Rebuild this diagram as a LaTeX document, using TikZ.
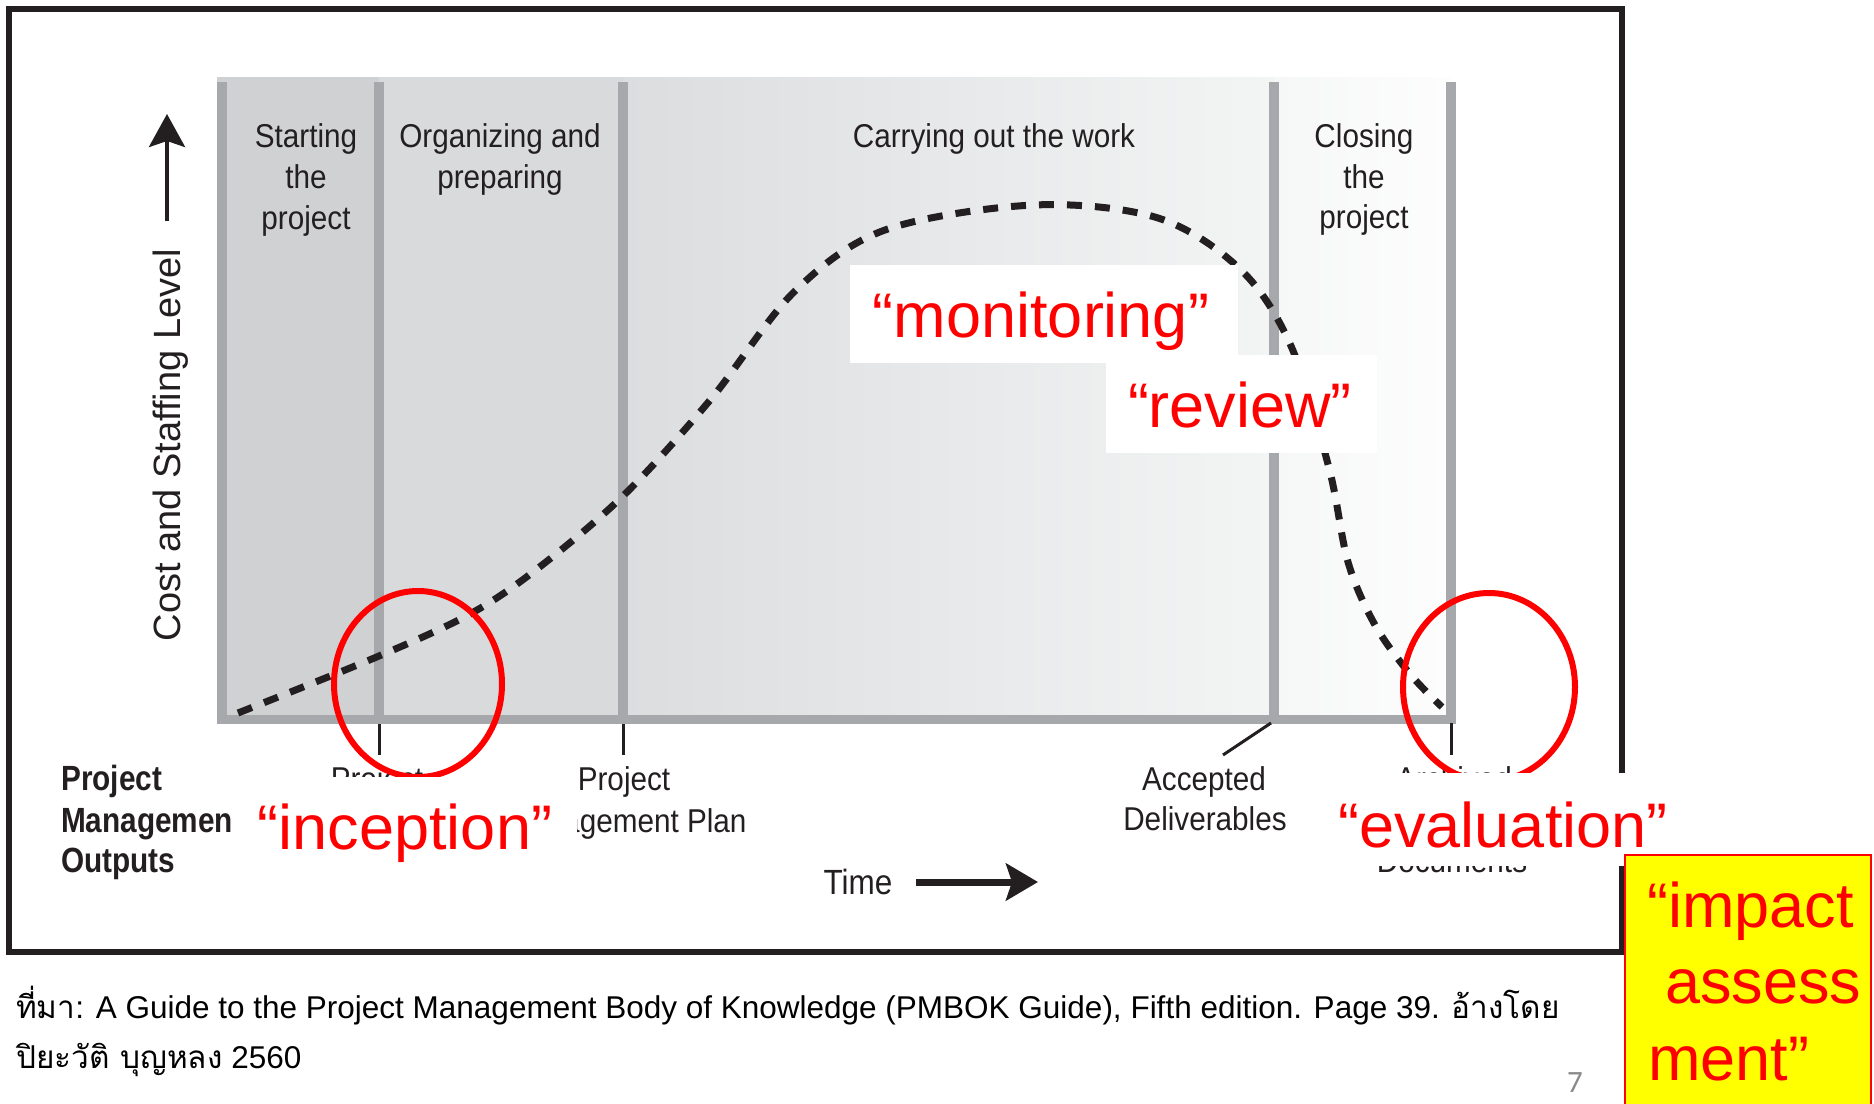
\documentclass[tikz,border=0pt]{standalone}
\usepackage{fontspec}
\setmainfont{Liberation Sans}
\newfontfamily\condf[FakeStretch=0.9]{Liberation Sans}
\newfontfamily\condbf[FakeStretch=0.85]{Liberation Sans Bold}
\newfontfamily\thaifont[Script=Thai]{Loma}
\newfontfamily\pgfont{Carlito}
\usetikzlibrary{arrows.meta}
\definecolor{ink}{HTML}{231F20}
\definecolor{barc}{HTML}{A7A8AB}
\definecolor{colA}{HTML}{D0D1D3}
\definecolor{colB}{HTML}{D9DADC}
\definecolor{colCa}{HTML}{DCDDDF}
\definecolor{colCb}{HTML}{F3F4F4}
\definecolor{colDa}{HTML}{F6F7F7}
\definecolor{colDb}{HTML}{FDFDFD}
\definecolor{rd}{HTML}{FF0000}
\definecolor{ylw}{HTML}{FFFF00}
\definecolor{pgc}{HTML}{8A8A8A}
\begin{document}
\begin{tikzpicture}[x=1pt,y=-1pt,
  phase/.style={font=\condf\fontsize{33}{40}\selectfont, text=ink, inner sep=0pt, anchor=base},
  outb/.style={font=\condbf\fontsize{35}{42}\selectfont, text=ink, inner sep=0pt, anchor=base west},
  outl/.style={font=\condf\fontsize{33}{40}\selectfont, text=ink, inner sep=0pt, anchor=base},
  redtxt/.style={font=\fontsize{63}{76}\selectfont, text=rd, inner sep=0pt, anchor=base},
  redl/.style={font=\fontsize{63}{76}\selectfont, text=rd, inner sep=0pt, anchor=base west},
  wbox/.style={fill=white, draw=none},
  gbar/.style={draw=barc, line width=10pt},
  tickln/.style={draw=ink, line width=3pt},
  ring/.style={draw=rd, line width=6pt},
  foot/.style={font=\fontsize{31.5}{36}\selectfont, text=black, inner sep=0pt, anchor=base west},
  ]
\useasboundingbox (0,0) rectangle (1874,1103);
\fill[white] (0,0) rectangle (1874,1103);

% chart background
\fill[colA] (217,77) rectangle (379,719);
\fill[colB] (379,77) rectangle (623,719);
\shade[left color=colCa, right color=colCb] (623,77) rectangle (1274,719);
\shade[left color=colDa, right color=colDb] (1274,77) rectangle (1451,719);

% bars
\draw[gbar] (222,82) -- (222,723);
\draw[gbar] (379,82) -- (379,719);
\draw[gbar] (623,82) -- (623,719);
\draw[gbar] (1274,82) -- (1274,719);
\draw[gbar] (1451,82) -- (1451,723);
\draw[draw=barc, line width=9pt] (217,719) -- (1456,719);

% ticks
\coordinate (t1a) at (379,724); \coordinate (t1b) at (379,755);
\coordinate (t2a) at (623,724); \coordinate (t2b) at (623,755);
\coordinate (t3a) at (1271,723); \coordinate (t3b) at (1223,755);
\coordinate (t4a) at (1451,723); \coordinate (t4b) at (1451,755);
\draw[tickln] (t1a) -- (t1b);
\draw[tickln] (t2a) -- (t2b);
\draw[tickln] (t3a) -- (t3b);
\draw[tickln] (t4a) -- (t4b);

% frame
\draw[ink, line width=6pt] (9,9) rectangle (1622,952);

% phase labels
\node[phase] (s1) at (306,147) {Starting};
\node[phase] (s2) at (306,188) {the};
\node[phase] (s3) at (306,229) {project};
\node[phase] (o1) at (500,147) {Organizing and};
\node[phase] (o2) at (500,188) {preparing};
\node[phase] (c1) at (994,147) {Carrying out the work};
\node[phase] (k1) at (1364,147) {Closing};
\node[phase] (k2) at (1364,188) {the};
\node[phase] (k3) at (1364,228) {project};

% y axis
\node[font=\fontsize{38}{44}\selectfont, text=ink, inner sep=0pt, anchor=base, rotate=90] (ylab) at (180,445) {Cost and Staffing Level};
\coordinate (ya) at (167,221); \coordinate (yb) at (167,114);
\draw[ink, line width=4pt, -{Stealth[length=33pt,width=36pt,inset=6pt]}] (ya) -- (yb);

% time axis
\node[outl, font=\condf\fontsize{35}{40}\selectfont] (time) at (858,894) {Time};
\coordinate (xa) at (916,882); \coordinate (xb) at (1038,882);
\draw[ink, line width=7pt, -{Stealth[length=32pt,width=37pt,inset=6pt]}] (xa) -- (xb);

% outputs
\node[outb] (pm1) at (61,790) {Project};
\node[outb] (pm2) at (61,832) {Managemen};
\node[outb] (pm3) at (61,872) {Outputs};
\node[outl] (op1) at (377,790) {Project};
\node[outl] (op2a) at (624,790) {Project};
\node[outl] (op2b) at (626,832) {Management Plan};
\node[outl] (ad1) at (1204,790) {Accepted};
\node[outl] (ad2) at (1205,830) {Deliverables};
\node[outl] (ar1) at (1454,790) {Archived};
\node[outl] (ar3) at (1452,872) {Documents};

% curve
\draw[ink, line width=7pt, dash pattern=on 15pt off 13pt]
  plot[smooth, tension=0.55] coordinates {(238,713) (379,656) (470,614) (537,569) (624,495) (711,399) (794,292) (885,230) (1034,205) (1158,218) (1241,270) (1291,346) (1329,468) (1348,562) (1375,625) (1410,674) (1442,707)};

% ellipses
\draw[ring] (418,684) ellipse [x radius=84pt, y radius=93pt];
\draw[ring] (1489,687) ellipse [x radius=86pt, y radius=94pt];

% white label boxes
\fill[wbox] (239,777) rectangle (577,875);
\node[redtxt] (inc) at (405,849) {“inception”};
\fill[wbox] (850,265) rectangle (1238,363);
\node[redtxt] (mon) at (1041,337) {“monitoring”};
\fill[wbox] (1106,355) rectangle (1377,453);
\node[redtxt] (rev) at (1240,427) {“review”};
\fill[wbox] (1300,773) rectangle (1700,866);
\node[redtxt] (eva) at (1503,847) {“evaluation”};

% yellow box
\draw[fill=ylw, draw=rd, line width=2pt] (1625,855) rectangle (1871,1110);
\node[redl] (im1) at (1647,927) {“impact};
\node[redl] (im2) at (1665,1003) {assess};
\node[redl] (im3) at (1648,1080) {ment”};

% footer
\node[foot] (f1) at (16,1018) {{\thaifont ที่มา}: A Guide to the Project Management Body of Knowledge (PMBOK Guide), Fifth edition. Page 39. {\thaifont อ้างโดย}};
\node[foot] (f2) at (16,1068) {{\thaifont ปิยะวัติ บุญหลง} 2560};
\node[font=\pgfont\fontsize{31}{36}\selectfont, text=pgc, inner sep=0pt, anchor=base] (pg) at (1575,1092) {7};
\end{tikzpicture}
\end{document}
